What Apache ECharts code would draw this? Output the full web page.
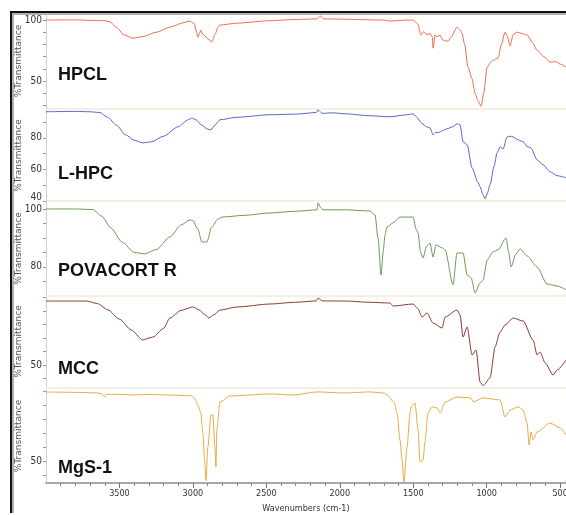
<!DOCTYPE html>
<html>
<head>
<meta charset="utf-8">
<script src="https://cdn.jsdelivr.net/npm/echarts@6/dist/echarts.min.js"></script>
<style>
html, body { margin: 0; padding: 0; background: #fff; }
#main { width: 566px; height: 515px; }
</style>
</head>
<body>
<div id="main"></div>
<script>
// 样品名称
var sampleNames = ['HPCL', 'L-HPC', 'POVACORT R', 'MCC', 'MgS-1'];
var seriesColors = ['#ee6b50', '#5568c4', '#6b9a55', '#8e3b2c', '#e9a945'];

// x轴刻度 (cm-1)
var xLabelValues = [3500, 3000, 2500, 2000, 1500, 1000, 500];

// y轴刻度
var yLabelValues = [[50, 100], [40, 60, 80], [80, 100], [50], [50]];
var yTickValues = [
	[30, 40, 50, 60, 70, 80, 90, 100],
	[40, 50, 60, 70, 80, 90],
	[75, 80, 85, 90, 95, 100],
	[40, 50, 60, 70, 80, 90, 100],
	[40, 50, 60, 70, 80, 90, 100]
];
var yRanges = [[28, 105], [40, 97.6], [70.3, 102.4], [34.4, 100.4], [34.3, 101.4]];

// 光谱数据 [波数, %T]
var hpcl = [
	[4000,100],[3800,100.2],[3700,99.8],[3600,99.5],[3565,98.5],[3520,94],[3470,88],[3409,85.2],[3340,86.5],
	[3250,90],[3150,94.5],[3060,98],[3020,99.2],[2990,97],[2975,90],[2966,86],[2955,89],[2946,91.8],[2930,88],
	[2890,84],[2871,82],[2850,88],[2830,94],[2816,95.9],[2700,97.5],[2475,99.5],[2300,100.5],[2160,101],
	[2130,103.3],[2110,101],[2000,100.8],[1900,100.5],[1700,100],[1658,99.2],[1550,100],[1501,100],[1470,97],
	[1447,87.7],[1430,90.5],[1406,88],[1385,89],[1370,86],[1365,77],[1352,87.7],[1338,86.5],[1317,87.7],
	[1300,84],[1283,83],[1263,82.8],[1240,86.5],[1202,94.3],[1180,92],[1168,89.3],[1150,80],[1127,61.5],
	[1100,52],[1079,40.2],[1060,34],[1038,29.5],[1020,40],[997,61.5],[975,65],[956,67.2],[922,68.9],[900,80],
	[875,90.2],[860,87],[841,78.7],[820,88],[793,90.2],[760,89],[725,87.7],[690,82],[657,75.4],[610,70],
	[568,65.6],[530,66],[500,64],[460,61.5]
];
var lhpc = [
	[4000,96.5],[3800,96.7],[3700,96.5],[3633,96],[3580,93],[3520,88],[3460,82],[3400,78.5],[3341,76.8],
	[3280,77.5],[3200,81],[3100,87],[3030,91.5],[3007,92.5],[2980,91.5],[2940,88],[2900,85.5],[2877,85.1],
	[2850,88],[2816,91.4],[2700,93],[2475,94.6],[2300,95],[2160,96],[2148,97.7],[2120,95.5],[2050,95.8],
	[1965,95.2],[1800,94],[1658,93.3],[1550,94.5],[1501,95.2],[1480,93.5],[1440,89],[1410,87],[1386,86.3],
	[1365,81.9],[1345,83.5],[1331,83.2],[1300,84.5],[1270,85.7],[1230,87],[1202,88.9],[1181,88.2],[1161,77.5],
	[1133,75.6],[1100,61],[1060,52],[1045,49],[1025,44],[1011,41.4],[995,45],[977,50.3],[950,62],[929,70.5],
	[909,74.3],[888,73],[861,80.6],[840,81],[820,80.6],[793,79],[752,77.5],[725,74.5],[700,73.7],[657,66.1],
	[616,62.9],[568,58.5],[520,56],[460,54.7]
];
var povacort = [
	[4000,100],[3800,100],[3681,99.8],[3620,97.5],[3560,93.5],[3480,88.5],[3400,85],[3327,84.5],[3250,86],
	[3157,90.3],[3080,94.5],[3020,96.2],[3000,96],[2966,93],[2939,88.6],[2905,88.6],[2871,93.8],[2830,96.5],
	[2802,97.2],[2650,97.8],[2475,98.6],[2300,99.2],[2155,99.7],[2148,102.1],[2130,100.5],[2114,99.7],
	[1965,99.7],[1794,99.3],[1760,97.9],[1740,90],[1719,77.2],[1705,85],[1692,91],[1678,93.8],[1638,95.2],
	[1590,97.2],[1501,97.2],[1480,93],[1467,91.7],[1450,85],[1433,83.1],[1410,87],[1386,88.3],[1365,83.4],
	[1345,87.6],[1304,86.6],[1283,85.9],[1229,73.8],[1202,84.8],[1161,84.8],[1133,77.2],[1106,76.2],[1079,71],
	[1045,74.5],[1024,75.5],[997,82.4],[956,85.2],[922,85.9],[868,90],[850,85],[834,80],[800,84.5],[772,86.2],
	[725,83.8],[657,80],[589,74.1],[520,73.4],[460,72.1]
];
var mcc = [
	[4000,97.4],[3800,97.4],[3722,97.4],[3650,95.5],[3580,91],[3500,84],[3420,76],[3341,68.5],[3300,70],
	[3272,70.7],[3200,77],[3157,84.8],[3080,90.5],[3000,93],[2960,91],[2920,87.5],[2891,84.8],[2860,87],
	[2816,90.7],[2700,93],[2475,95.2],[2300,96.5],[2160,97.5],[2148,99.6],[2120,97.5],[1965,97.4],[1800,96.5],
	[1658,95.9],[1638,93.7],[1501,95.2],[1470,92],[1440,85.6],[1406,88.5],[1365,81.1],[1304,77.4],[1283,85.6],
	[1202,90.7],[1181,87],[1161,70.7],[1133,78.1],[1099,57.4],[1072,61.1],[1045,37.4],[1024,34.5],[977,40.4],
	[943,63.3],[909,74.4],[875,79.6],[820,84.8],[752,82.6],[684,68.5],[657,57.4],[636,59.6],[602,51.5],
	[548,42.6],[520,46.3],[460,53.7]
];
var mgs1 = [
	[4000,99.3],[3800,99],[3654,98.6],[3620,97.9],[3605,96],[3599,95.7],[3590,97.6],[3500,97.5],[3400,97.2],
	[3300,97.5],[3157,97.1],[3007,96.5],[2990,95],[2966,90],[2946,84.3],[2932,70],[2920,50],[2911,36],
	[2898,60],[2877,82.9],[2864,82.9],[2850,60],[2843,45.7],[2837,72.1],[2816,92.1],[2748,96.4],[2475,97.9],
	[2319,97.1],[2155,99.3],[1965,98.6],[1794,99.3],[1700,98.5],[1678,97.1],[1630,92],[1610,84.3],[1590,65],
	[1576,50.7],[1563,35],[1542,60],[1522,84],[1515,88.6],[1488,91.4],[1467,72.1],[1454,49.3],[1433,50.7],
	[1420,63.6],[1399,84.3],[1372,88.6],[1338,87.9],[1317,84.3],[1283,92.1],[1202,95.7],[1106,95],[1093,92.1],
	[1024,95],[909,93.6],[875,81.4],[841,86.4],[786,88.6],[752,86.4],[725,77.1],[711,61.4],[698,70.7],
	[684,65],[657,70.7],[568,77.1],[500,73.6],[460,68.6]
];
var spectra = [hpcl, lhpc, povacort, mcc, mgs1];

// 各面板位置
var panelTops = [14, 110, 202, 297, 389];
var panelHeights = [94, 91, 93, 89, 94];

initChart();

/**
 * 初始化图表
 */
function initChart(){
	var myChart = echarts.init(document.getElementById('main'));
	var grids = [], xAxes = [], yAxes = [], series = [], graphics = [];
	var narrow = '"DejaVu Sans Condensed", "Liberation Sans Narrow", "DejaVu Sans", sans-serif';
	var plain = function(v){ return String(v); };

	for (var i = 0; i < spectra.length; i++) {
		var last = (i == spectra.length - 1);
		grids.push({ left: 46, right: 0, top: panelTops[i], height: panelHeights[i], outerBoundsMode: 'none' });
		xAxes.push({
			type: 'value', gridIndex: i, min: 460, max: 4000, inverse: true,
			show: last,
			axisLine: { show: true, lineStyle: { color: '#a8a8a8', width: 2 } },
			axisTick: { show: true, length: 5, customValues: xLabelValues, lineStyle: { color: '#777' } },
			axisLabel: { customValues: xLabelValues, formatter: plain, fontFamily: narrow, fontSize: 9, color: '#333', margin: 6 },
			splitLine: { show: false },
			name: last ? 'Wavenumbers (cm-1)' : '',
			nameLocation: 'middle', nameGap: 21,
			nameTextStyle: { fontFamily: narrow, fontSize: 9, color: '#333' }
		});
		var labs = yLabelValues[i];
		yAxes.push({
			type: 'value', gridIndex: i, min: yRanges[i][0], max: yRanges[i][1],
			axisLine: { show: true, lineStyle: { color: '#cfcfcf' } },
			axisTick: { show: true, length: 3, customValues: yTickValues[i], lineStyle: { color: '#999' } },
			axisLabel: {
				customValues: labs, fontFamily: narrow, fontSize: 10, color: '#333', margin: 4,
				formatter: (i == 1) ? function(v){ return v == 40 ? '{lo|40}' : String(v); } : plain,
				rich: { lo: { fontFamily: narrow, fontSize: 10, color: '#333', padding: [0, 0, 8, 0] } }
			},
			splitLine: { show: false },
			name: '%Transmittance', nameLocation: 'middle', nameRotate: 90, nameGap: 23,
			nameMoveOverlap: false,
			nameTextStyle: { fontFamily: 'DejaVu Sans', fontSize: 9, color: '#555' }
		});
		series.push({
			name: sampleNames[i], type: 'line', xAxisIndex: i, yAxisIndex: i,
			data: spectra[i], showSymbol: false, smooth: 0.25, smoothMonotone: 'x',
			lineStyle: { color: seriesColors[i], width: 1 }, silent: true
		});
		// 面板上沿的浅色分隔线
		if (i > 0) {
			graphics.push({ type: 'rect', shape: { x: 46, y: panelTops[i] - 2, width: 520, height: 2 },
				style: { fill: '#f6efe1' }, silent: true });
		}
		graphics.push({ type: 'text', left: 58, top: panelTops[i] + [52, 55, 60, 63, 70][i],
			style: { text: sampleNames[i], font: 'bold 18px "Liberation Sans"', fill: '#111' } });
	}

	// 底部x轴的小刻度
	var minorTicks = [];
	for (var w = 600; w <= 3900; w += 100) { if (w % 500 != 0) minorTicks.push(w); }
	xAxes.push({
		type: 'value', gridIndex: 4, min: 460, max: 4000, inverse: true, position: 'bottom',
		axisLine: { show: false },
		axisTick: { show: true, length: 3, customValues: minorTicks, lineStyle: { color: '#888' } },
		axisLabel: { show: false }, splitLine: { show: false }
	});

	// 外框
	graphics.push({ type: 'rect', shape: { x: 10, y: 11, width: 556, height: 2 }, style: { fill: '#111' } });
	graphics.push({ type: 'rect', shape: { x: 12, y: 13, width: 554, height: 2 }, style: { fill: '#b0b0b0' } });
	graphics.push({ type: 'rect', shape: { x: 10, y: 11, width: 2, height: 502 }, style: { fill: '#111' } });
	graphics.push({ type: 'rect', shape: { x: 12, y: 13, width: 2, height: 500 }, style: { fill: '#b0b0b0' } });

	var option = {
		animation: false,
		backgroundColor: '#fff',
		grid: grids,
		xAxis: xAxes,
		yAxis: yAxes,
		series: series,
		graphic: graphics
	};
	myChart.setOption(option);
}
</script>
</body>
</html>
